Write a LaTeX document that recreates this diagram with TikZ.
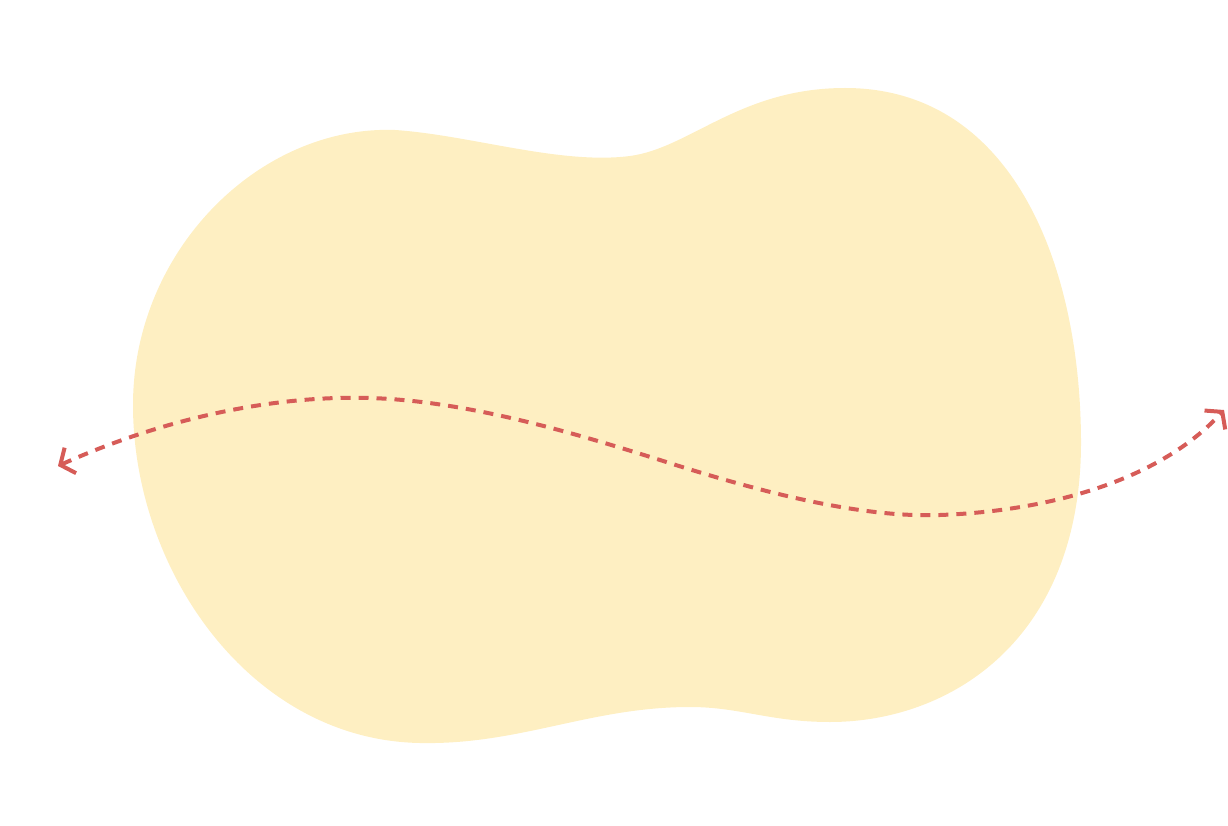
\documentclass[tikz,border=0pt]{standalone}
\usetikzlibrary{arrows.meta}
\definecolor{blobfill}{HTML}{FEEFC2}
\definecolor{arrowred}{HTML}{D65C58}
\tikzset{
  blob/.style={fill=blobfill, draw=none},
  wave/.style={draw=arrowred, line width=4pt, dash pattern=on 10pt off 8pt,
    {Straight Barb[length=11pt,width=28pt,line width=4pt]}-{Straight Barb[length=11pt,width=28pt,line width=4pt]}}
}
\begin{document}
\begin{tikzpicture}[x=1pt,y=-1pt]
\useasboundingbox (0,0) rectangle (1228,826);
\path[blob] (133,405) .. controls (133,250) and (260,125) .. (395,130)
  .. controls (470,135) and (560,165) .. (630,156)
  .. controls (690,148) and (740,88) .. (845,88)
  .. controls (1010,88) and (1080,260) .. (1081,440)
  .. controls (1082,640) and (950,722) .. (830,722)
  .. controls (770,722) and (740,707) .. (690,707)
  .. controls (590,707) and (520,745) .. (420,743)
  .. controls (250,740) and (133,570) .. (133,405) -- cycle;
\coordinate (L) at (58,466);
\coordinate (R) at (1224,410);
\draw[wave] (L) .. controls (160,420) and (270,395) .. (370,398)
  .. controls (470,401) and (580,435) .. (660,460)
  .. controls (760,492) and (860,518) .. (940,515)
  .. controls (1050,511) and (1160,480) .. (R);
\end{tikzpicture}
\end{document}
